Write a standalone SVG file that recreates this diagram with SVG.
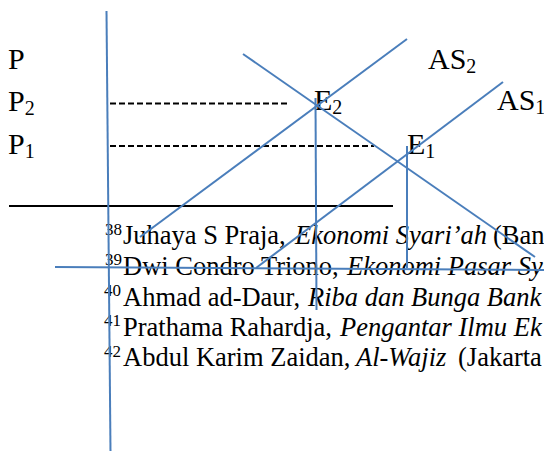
<svg xmlns="http://www.w3.org/2000/svg" width="544" height="452" viewBox="0 0 544 452">
  <style>
    text { font-family: 'Liberation Serif', 'Times New Roman', serif; fill: #000; }
    .lbl { font-size: 30px; }
    .sub { font-size: 20px; }
    .fn { font-size: 26.5px; }
    .sup { font-size: 17px; }
    .it { font-style: italic; }
    .blue { stroke: #4A7EBB; stroke-width: 2; fill: none; }
    .dash { stroke: #000; stroke-width: 2; stroke-dasharray: 6 3; fill: none; }
  </style>
  <rect width="544" height="452" fill="#fff"/>

  <g id="footnotes">
    <text class="fn sup" x="105" y="235">38</text>
    <text class="fn" y="244"><tspan x="123">Juhaya S Praja,</tspan><tspan class="it" x="295">Ekonomi Syari’ah</tspan><tspan x="493">(Ban</tspan></text>
    <text class="fn sup" x="105" y="265">39</text>
    <text class="fn" y="274.5"><tspan x="123">Dwi Condro Triono,</tspan><tspan class="it" x="347">Ekonomi Pasar Sy</tspan></text>
    <text class="fn sup" x="104" y="296">40</text>
    <text class="fn" y="305.5"><tspan x="123">Ahmad ad-Daur,</tspan><tspan class="it" x="308">Riba dan Bunga Bank</tspan></text>
    <text class="fn sup" x="104" y="326">41</text>
    <text class="fn" y="335.5"><tspan x="123">Prathama Rahardja,</tspan><tspan class="it" x="340">Pengantar Ilmu Ek</tspan></text>
    <text class="fn sup" x="104" y="357">42</text>
    <text class="fn" y="366"><tspan x="123">Abdul Karim Zaidan,</tspan><tspan class="it" x="356">Al-Wajiz</tspan><tspan x="458">(Jakarta</tspan></text>
  </g>

  <g id="label-P"><text class="lbl" x="8" y="69">P</text></g>
  <g id="label-P2"><text class="lbl" x="8" y="111">P<tspan class="sub" dy="4">2</tspan></text></g>
  <g id="label-P1"><text class="lbl" x="8" y="154">P<tspan class="sub" dy="4">1</tspan></text></g>
  <g id="label-AS2"><text class="lbl" x="428" y="68.5">AS<tspan class="sub" dy="4">2</tspan></text></g>
  <g id="label-AS1"><text class="lbl" x="497" y="110">AS<tspan class="sub" dy="4">1</tspan></text></g>
  <g id="label-E2"><text class="lbl" x="314" y="109.5">E<tspan class="sub" dy="4">2</tspan></text></g>
  <g id="label-E1"><text class="lbl" x="407" y="153.5">E<tspan class="sub" dy="4">1</tspan></text></g>

  <g id="connectors">
    <line x1="9" y1="206" x2="393" y2="206" stroke="#000" stroke-width="2"/>
    <line class="dash" x1="110" y1="103.5" x2="289" y2="103.5"/>
    <line class="dash" x1="110" y1="146" x2="374" y2="146"/>
    <line class="blue" x1="106.5" y1="11" x2="110.5" y2="451"/>
    <line class="blue" x1="55" y1="267" x2="544" y2="270"/>
    <line class="blue" x1="243" y1="54" x2="535" y2="257"/>
    <line class="blue" x1="140" y1="237" x2="407" y2="39"/>
    <line class="blue" x1="256" y1="268" x2="503" y2="82"/>
    <line class="blue" x1="315.5" y1="98" x2="316.5" y2="310"/>
    <line class="blue" x1="407" y1="146" x2="407" y2="268"/>
  </g>
</svg>
